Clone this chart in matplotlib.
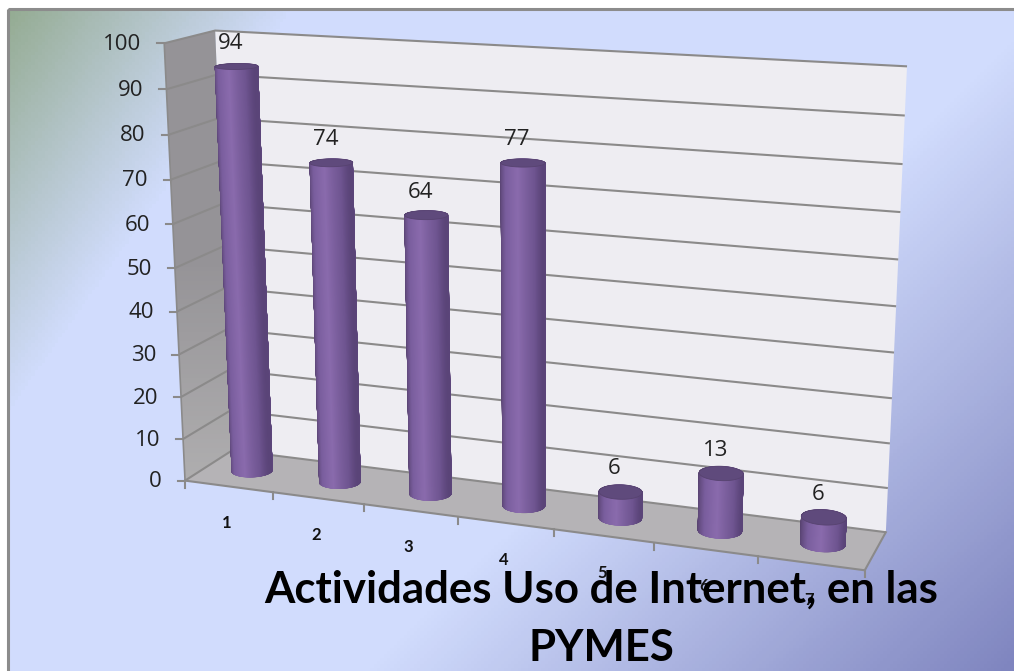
import matplotlib
matplotlib.use('Agg')
import matplotlib.pyplot as plt
import numpy as np
from matplotlib.colors import LinearSegmentedColormap
from matplotlib.patches import Polygon, Rectangle
from matplotlib.collections import PolyCollection

categories = ['1', '2', '3', '4', '5', '6', '7']
values = [94, 74, 64, 77, 6, 13, 6]
value_ticks = [0, 10, 20, 30, 40, 50, 60, 70, 80, 90, 100]
title = 'Actividades Uso de Internet, en las\nPYMES'

W, H = 1014, 671
n_cat = len(categories)

# camera of the 3d chart: axis position (category, depth, value) -> picture pixel
axis_refs = [(0, 0, 0), (0, 0, 100), (0, 1, 0), (0, 1, 100), (7, 1, 100), (7, 1, 0), (7, 0, 0),
             (1, 0, 0), (2, 0, 0), (3, 0, 0), (4, 0, 0), (5, 0, 0), (6, 0, 0),
             (7, 1, 10), (7, 1, 20), (7, 1, 70), (7, 1, 80), (7, 1, 90),
             (0, 0, 10), (0, 0, 60), (0, 0, 70), (0, 0, 90)]
pixel_refs = [(187, 481), (165, 43), (232, 450), (215, 31), (907, 67), (886, 532), (865, 570),
              (274, 493), (363, 505), (457, 517), (554, 529), (655, 543), (757, 556),
              (888, 488), (890, 443), (900, 212), (903, 164), (905, 115.5),
              (182, 438), (173, 224), (170, 179), (166, 89.5)]


def fit_camera():
    rows = []
    for (c, d, v), (px, py) in zip(axis_refs, pixel_refs):
        X = [c / 7.0, d, v / 100.0, 1.0]
        u, w = px / 1000.0, py / 1000.0
        rows.append(X + [0, 0, 0, 0] + [-u * a for a in X])
        rows.append([0, 0, 0, 0] + X + [-w * a for a in X])
    _, _, vt = np.linalg.svd(np.array(rows))
    return vt[-1].reshape(3, 4)


P = fit_camera()


def proj(c, d, v):
    c, d, v = np.broadcast_arrays(np.asarray(c, float), np.asarray(d, float), np.asarray(v, float))
    X = np.stack([c / 7.0, d, v / 100.0, np.ones(c.shape)])
    q = np.tensordot(P, X, axes=1)
    return q[0] / q[2] * 1000.0, q[1] / q[2] * 1000.0


def quad(c0, d0, v0, c1, d1, v1, c2, d2, v2, c3, d3, v3):
    pts = [proj(*a) for a in [(c0, d0, v0), (c1, d1, v1), (c2, d2, v2), (c3, d3, v3)]]
    return [(float(x), float(y)) for x, y in pts]


fig = plt.figure(figsize=(W / 100.0, H / 100.0), dpi=100, facecolor='white')
ax = fig.add_axes([0, 0, 1, 1])
ax.set_xlim(0, W)
ax.set_ylim(H, 0)
ax.axis('off')

# background gradient, green corner top left and darker corner bottom right
bg_cmap = LinearSegmentedColormap.from_list('bg', [(0, '#92aa8e'), (0.2, '#d1dcfd'), (0.62, '#d1dcfd'), (1, '#7f85bf')])
xx, yy = np.meshgrid(np.linspace(8, W, 300), np.linspace(9, H, 200))
s = (570 * xx + 400 * yy) / 846000.0
r = (621 * xx + 634 * yy) / 1055000.0
ax.imshow(np.where(s < 0.2, s, np.maximum(r, 0.2)), extent=[8, W, H, 9], cmap=bg_cmap, vmin=0, vmax=1, aspect='auto', zorder=0)
ax.set_xlim(0, W)
ax.set_ylim(H, 0)
ax.add_patch(Rectangle((8, 9), W + 10, H + 10, fill=False, ec='#8c8c8c', lw=2.2, zorder=1))

# walls and floor
ax.add_patch(Polygon(quad(0, 1, 0, 7, 1, 0, 7, 1, 100, 0, 1, 100), fc='#eeedf2', ec='none', zorder=2))
ax.add_patch(Polygon(quad(0, 0, 0, 7, 0, 0, 7, 1, 0, 0, 1, 0), fc='#b5b3b6', ec='none', zorder=2))
side = Polygon(quad(0, 0, 0, 0, 1, 0, 0, 1, 100, 0, 0, 100), fc='none', ec='none', zorder=2)
ax.add_patch(side)
side_cmap = LinearSegmentedColormap.from_list('side', ['#959397', '#959397', '#b0afb0'])
side_img = ax.imshow(np.linspace(0, 1, 100).reshape(-1, 1), extent=[150, 250, 490, 25], cmap=side_cmap, aspect='auto', zorder=2)
side_img.set_clip_path(side)
ax.set_xlim(0, W)
ax.set_ylim(H, 0)

line_c = '#8b8a8a'
for v in value_ticks:
    x, y = proj([0, 0, 7], [0, 1, 1], [v, v, v])
    ax.plot(x, y, color=line_c, lw=1.5, zorder=3, solid_capstyle='butt')
    ax.plot([x[0] - 7, x[0]], [y[0], y[0]], color=line_c, lw=1.5, zorder=3)
    ax.text(x[0] - 23, y[0] + 1, str(v), ha='right', va='center', fontsize=16, family='Open Sans', color='#222222', zorder=8)

# axis edges
x, y = proj([0, 7, 7], [0, 0, 1], [0, 0, 0])
ax.plot(x, y, color=line_c, lw=1.5, zorder=3)
x, y = proj([0, 0], [0, 0], [0, 100])
ax.plot(x, y, color=line_c, lw=1.2, zorder=3)
for k in range(n_cat + 1):
    x, y = proj(k, 0, 0)
    ax.plot([x, x], [y, y + 7], color=line_c, lw=1.5, zorder=3)

# cylinders
shade = LinearSegmentedColormap.from_list('cyl', [(0, '#5a4478'), (0.12, '#6f5591'), (0.45, '#8a6bad'), (0.75, '#7a5e9e'), (1, '#57426f')])
rx, rd = 0.21, 0.2
theta = np.linspace(0, 2 * np.pi, 721)
order = np.argsort(-np.sin(theta[:-1]))
for k, val in enumerate(values):
    cc = k + 0.5
    bx, by = proj(cc + rx * np.cos(theta), 0.5 + rd * np.sin(theta), 0)
    tx, ty = proj(cc + rx * np.cos(theta), 0.5 + rd * np.sin(theta), val)
    polys = []
    cols = []
    # back strips first so the near side covers them
    for i in order:
        polys.append([(bx[i], by[i]), (bx[i + 1], by[i + 1]), (tx[i + 1], ty[i + 1]), (tx[i], ty[i])])
        cols.append(shade((1 - np.cos(theta[i])) / 2))
    z = 4 + k * 0.1
    ax.add_collection(PolyCollection(polys, facecolors=cols, edgecolors=cols, linewidths=0.3, zorder=z))
    ax.add_patch(Polygon(np.column_stack([tx, ty]), fc='#5f4a7c', ec='#574370', lw=0.6, zorder=z + 0.01))
    # value label above top
    lx, ly = proj(cc, 0.5, val)
    ax.text(float(lx) - 6, float(ly) - 23, str(val), ha='center', va='center', fontsize=16, family='Open Sans', color='#222222', zorder=8)
    # category label
    lx, ly = proj(cc, 0, 0)
    ax.text(float(lx) - 2, float(ly) + 37, categories[k], ha='center', va='center', fontsize=12, family='Lato', weight='bold', color='#111111', zorder=8)

ax.text(601, 619, title, ha='center', va='center', fontsize=31.5, family='Lato', weight='bold', color='black', linespacing=1.54, zorder=9)

fig.savefig('out.png', dpi=100)
